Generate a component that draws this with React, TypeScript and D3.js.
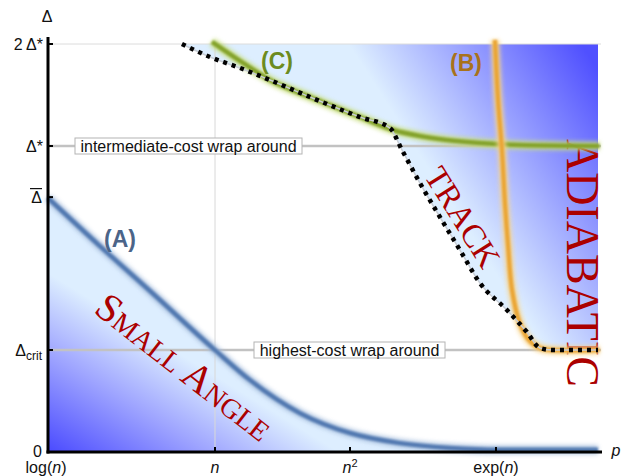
import React from 'react';
import * as d3 from 'd3';

// schematic axes: x ticks log(n), n, n^2, exp(n); y ticks 0, Δcrit, Δbar, Δ*, 2Δ*
const xTickValues = [0, 1, 2, 3];
const xTickLabels = ['log(n)', 'n', 'n2', 'exp(n)'];
const xMax = 3.7;
const deltaCrit = 1 / 3;
const deltaBar = 0.833;
const deltaStar = 1;
const twoDeltaStar = 2;

// (A) small angle bound
const curveA: [number, number][] = [
  [0, 0.83], [0.311, 0.673], [0.611, 0.526], [1, 0.333], [1.259, 0.235],
  [1.63, 0.127], [2, 0.062], [2.342, 0.029], [2.685, 0.013], [3.027, 0.007], [3.7, 0.007],
];

// (B) adiabatic bound
const curveB: [number, number][] = [
  [2.993, 2.04], [3.014, 1.451], [3.041, 0.987], [3.062, 0.81], [3.082, 0.68],
  [3.11, 0.53], [3.164, 0.42], [3.226, 0.366], [3.301, 0.34], [3.39, 0.333], [3.71, 0.333],
];

// (C) intermediate bound
const curveC: [number, number][] = [
  [0.982, 2.02], [1.207, 1.814], [1.407, 1.647], [1.704, 1.48], [2.068, 1.284],
  [2.295, 1.157], [2.479, 1.098], [2.664, 1.059], [2.89, 1.029], [3.164, 1.01], [3.71, 1.0],
];

// dotted track boundary
const trackBoundary: [number, number][] = [
  [0.802, 2.0], [0.97, 1.873], [1.185, 1.765], [1.407, 1.647], [1.704, 1.48],
  [2.068, 1.284], [2.274, 1.176], [2.356, 0.987], [2.479, 0.879], [2.616, 0.768],
  [2.753, 0.66], [2.89, 0.552], [3.075, 0.464], [3.212, 0.392], [3.301, 0.34],
  [3.39, 0.333], [3.7, 0.333],
];

const width = 625;
const height = 476;

const x = d3.scaleLinear().domain([0, 1, 2, 3, xMax]).range([48, 215, 350, 496, 598]);
const y = d3.scaleLinear().domain([0, 1, 2]).range([452, 146, 44]);

const sans = 'Liberation Sans, Arial, sans-serif';
const serif = 'Liberation Serif, Times New Roman, serif';
const red = '#ab0000';

export default function App() {
  const line = d3.line<[number, number]>()
    .x(d => x(d[0]))
    .y(d => y(d[1]))
    .curve(d3.curveMonotoneX);

  const lineB = d3.line<[number, number]>()
    .x(d => x(d[0]))
    .y(d => y(d[1]))
    .curve(d3.curveCatmullRom);

  const smallAngleArea = d3.area<[number, number]>()
    .x(d => x(d[0]))
    .y0(y(0))
    .y1(d => y(d[1]))
    .curve(d3.curveMonotoneX);

  const trackArea = d3.area<[number, number]>()
    .x(d => x(d[0]))
    .y0(d => y(d[1]))
    .y1(y(twoDeltaStar))
    .curve(d3.curveMonotoneX);

  const x0 = x(0);
  const xEnd = x(xMax);

  // glowing curve helper
  const glowCurve = (d: string | null, glow: string, core: string) => (
    <g>
      <path d={d || ''} fill="none" stroke={glow} strokeWidth={9} filter="url(#glow)" opacity={0.85} />
      <path d={d || ''} fill="none" stroke={core} strokeWidth={4.5} filter="url(#soft)" />
    </g>
  );

  const wrapLabel = (value: number, label: string, bx: number, bw: number) => (
    <g>
      <line x1={x0} x2={xEnd + 3} y1={y(value)} y2={y(value)} stroke="#c2c2c2" strokeWidth={2.5} />
      <rect x={bx} y={y(value) - 8} width={bw} height={16} fill="#fff" stroke="#b4b4b4" strokeWidth={1} />
      <text x={bx + bw / 2} y={y(value) + 5.5} textAnchor="middle" fontFamily={sans} fontSize={16} fill="#111">{label}</text>
    </g>
  );

  const yLabel = (v: number) => {
    const ty = y(v) + 5.5;
    if (v === 0) return <text x={42} y={ty - 1} textAnchor="end">0</text>;
    if (v === deltaCrit) return (
      <text x={42} y={ty} textAnchor="end">Δ<tspan fontSize={12} dy={4}>crit</tspan></text>
    );
    if (v === deltaBar) return (
      <g>
        <text x={42} y={ty} textAnchor="end">Δ</text>
        <line x1={30} x2={42} y1={y(v) - 8.5} y2={y(v) - 8.5} stroke="#111" strokeWidth={1.2} />
      </g>
    );
    if (v === deltaStar) return <text x={43} y={ty} textAnchor="end">Δ*</text>;
    return <text x={43} y={ty} textAnchor="end">2 Δ*</text>;
  };

  const xLabel = (v: number, i: number) => {
    const lbl = xTickLabels[i];
    const tx = x(v);
    const ty = 473;
    if (lbl === 'log(n)') return <text key={i} x={tx - 2} y={ty} textAnchor="middle">log(<tspan fontStyle="italic">n</tspan>)</text>;
    if (lbl === 'n') return <text key={i} x={tx} y={ty} textAnchor="middle" fontStyle="italic">n</text>;
    if (lbl === 'n2') return <text key={i} x={tx} y={ty} textAnchor="middle"><tspan fontStyle="italic">n</tspan><tspan fontSize={11} dy={-6}>2</tspan></text>;
    return <text key={i} x={tx} y={ty} textAnchor="middle">exp(<tspan fontStyle="italic">n</tspan>)</text>;
  };

  return (
    <svg width={width} height={height} style={{ position: 'absolute', left: 0, top: 0, background: '#fff' }}>
      <defs>
        <linearGradient id="smallGrad" gradientUnits="userSpaceOnUse" x1={48} y1={452} x2={128} y2={322}>
          <stop offset="0" stopColor="#4a4aff" />
          <stop offset="0.55" stopColor="#9ea4ff" />
          <stop offset="1" stopColor="#ddeeff" />
        </linearGradient>
        <linearGradient id="trackGrad" gradientUnits="userSpaceOnUse" x1={441} y1={188} x2={606} y2={82}>
          <stop offset="0" stopColor="#ddeeff" />
          <stop offset="1" stopColor="#5050ff" />
        </linearGradient>
        <filter id="glow" filterUnits="userSpaceOnUse" x={0} y={0} width={width} height={height}>
          <feGaussianBlur stdDeviation={2.2} />
        </filter>
        <filter id="soft" filterUnits="userSpaceOnUse" x={0} y={0} width={width} height={height}>
          <feGaussianBlur stdDeviation={0.9} />
        </filter>
      </defs>

      {/* region fills */}
      <path d={smallAngleArea(curveA) || ''} fill="url(#smallGrad)" />
      <path d={trackArea(trackBoundary) || ''} fill="url(#trackGrad)" />

      {/* grid */}
      <line x1={x(1)} x2={x(1)} y1={y(twoDeltaStar)} y2={y(0)} stroke="#d8d8d8" strokeWidth={1} />
      <line x1={x0} x2={xEnd + 3} y1={y(twoDeltaStar)} y2={y(twoDeltaStar)} stroke="#dcdcdc" strokeWidth={1} />

      {/* wrap-around levels */}
      {wrapLabel(deltaStar, 'intermediate-cost wrap around', 75, 227)}
      {wrapLabel(deltaCrit, 'highest-cost wrap around', 254, 191)}

      {/* region names */}
      <text transform={`translate(${x(0.82)},${y(0.28)}) rotate(38)`} dy="0.35em" textAnchor="middle"
        fontFamily={serif} fontSize={40} fill={red} style={{ fontVariant: 'small-caps' }}>Small Angle</text>
      <text transform={`translate(${x(2.774)},${y(0.768)}) rotate(58)`} dy="0.35em" textAnchor="middle"
        fontFamily={serif} fontSize={33} fill={red}>TRACK</text>
      <text transform={`translate(${x(3.49)},${y(0.618)}) rotate(90)`} textAnchor="middle"
        fontFamily={serif} fontSize={46} fill={red} textLength={248} lengthAdjust="spacingAndGlyphs">ADIABATIC</text>

      {/* curves */}
      {glowCurve(line(curveA), '#a9c0de', '#5178b0')}
      {glowCurve(line(curveC), '#c8de80', '#83a22a')}
      {glowCurve(lineB(curveB), '#f8d690', '#eaa535')}

      {/* track boundary */}
      <path d={line(trackBoundary) || ''} fill="none" stroke="#c8ced6" strokeWidth={1.5} />
      <path d={line(trackBoundary) || ''} fill="none" stroke="#000" strokeWidth={4.5} strokeDasharray="4 5" />

      {/* curve labels */}
      <text x={x(0.431)} y={y(0.67)} textAnchor="middle" fontFamily={sans} fontWeight="bold" fontSize={23} fill="#4b6488">(A)</text>
      <text x={x(1.459)} y={y(1.755)} textAnchor="middle" fontFamily={sans} fontWeight="bold" fontSize={23} fill="#6c8b20">(C)</text>
      <text x={x(2.795)} y={y(1.735)} textAnchor="middle" fontFamily={sans} fontWeight="bold" fontSize={23} fill="#a8721c">(B)</text>

      {/* axes */}
      <line x1={x0} x2={x0} y1={37} y2={y(0) + 1.5} stroke="#000" strokeWidth={3} />
      <line x1={x0 - 1.5} x2={xEnd + 4} y1={y(0)} y2={y(0)} stroke="#000" strokeWidth={3} />
      {[0, deltaCrit, deltaBar, deltaStar, twoDeltaStar].map((v, i) => (
        <line key={i} x1={x0} x2={x0 + 5} y1={y(v)} y2={y(v)} stroke="#000" strokeWidth={2} />
      ))}
      {xTickValues.map((v, i) => (
        <line key={i} x1={x(v)} x2={x(v)} y1={y(0)} y2={y(0) - 5} stroke="#000" strokeWidth={2} />
      ))}
      <g fontFamily={sans} fontSize={16} fill="#111">
        {[0, deltaCrit, deltaBar, deltaStar, twoDeltaStar].map((v, i) => <g key={i}>{yLabel(v)}</g>)}
        {xTickValues.map((v, i) => xLabel(v, i))}
        <text x={47} y={22} textAnchor="middle">Δ</text>
        <text x={616} y={456} textAnchor="middle" fontStyle="italic">p</text>
      </g>
    </svg>
  );
}
